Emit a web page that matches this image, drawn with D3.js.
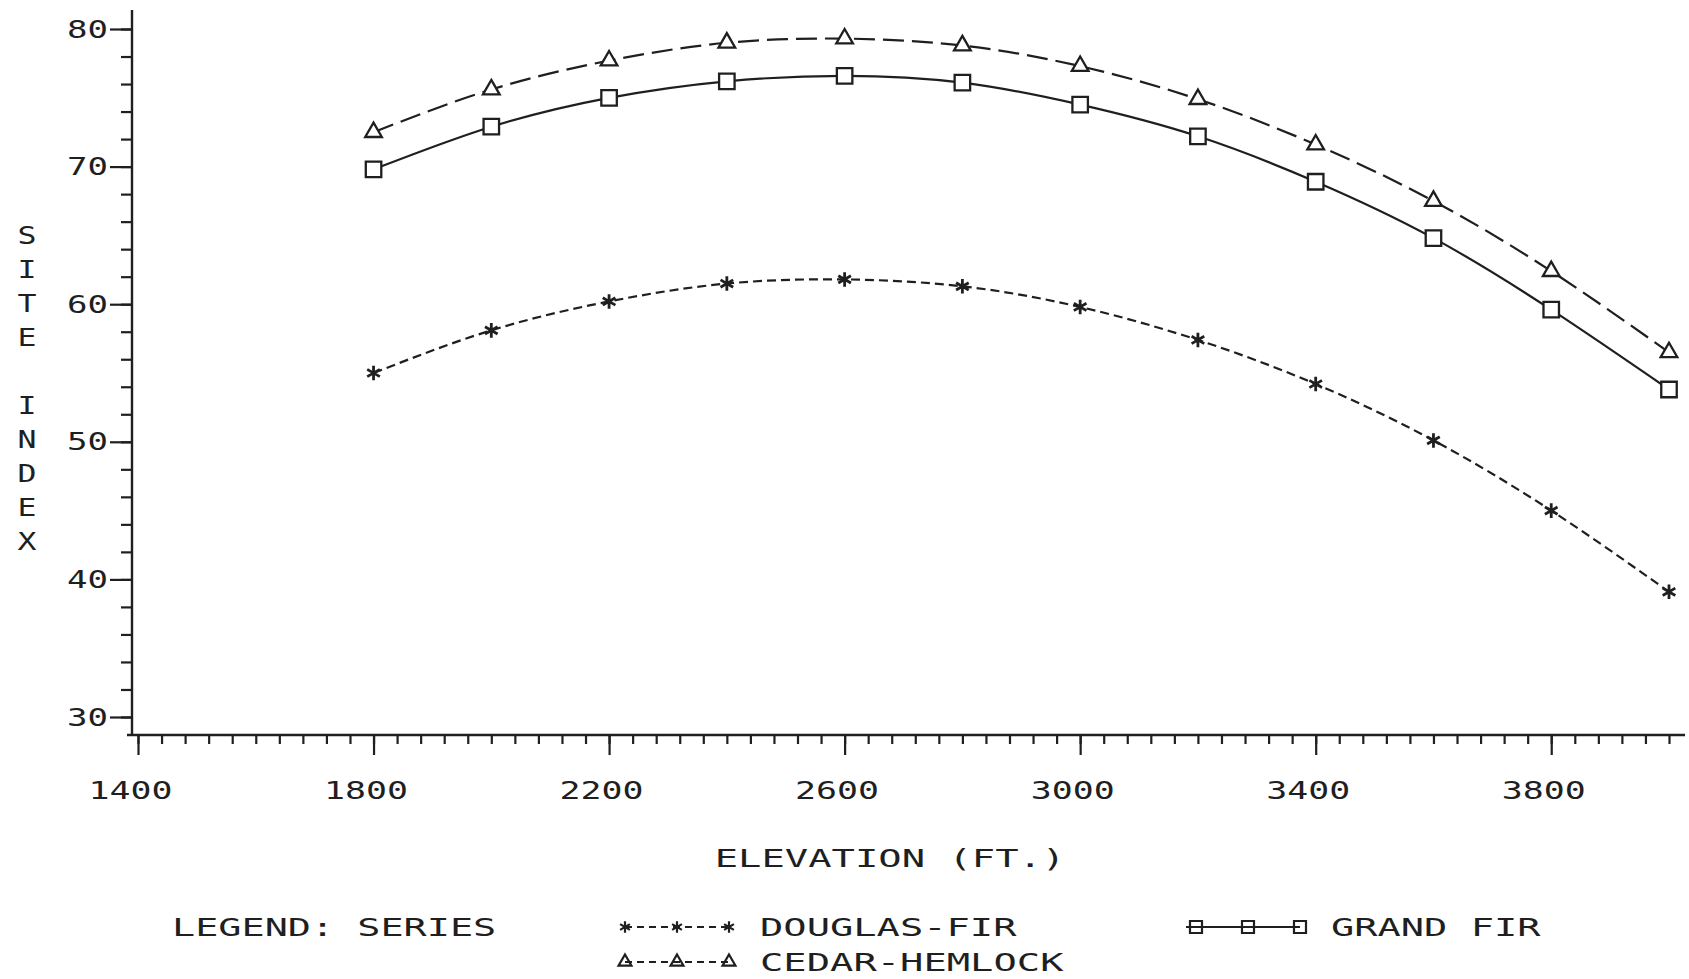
<html>

<head>
  <title>Site index by elevation</title>
  <script src="https://d3js.org/d3.v7.min.js"></script>
  <style>
    body { margin: 0; background: #fff; }
    text { font-family: 'DejaVu Sans Mono', monospace; fill: #1f1f1f; font-size: 25px; }
  </style>
</head>

<body>
  <div id="chart"></div>

  <script type="text/javascript">

      // Values (site index at each elevation)
      var elevations   = [1800, 2000, 2200, 2400, 2600, 2800, 3000, 3200, 3400, 3600, 3800, 4000];
      var douglasFir   = [55.0, 58.1, 60.2, 61.5, 61.8, 61.3, 59.8, 57.4, 54.2, 50.1, 45.0, 39.1];
      var grandFir     = [69.8, 72.9, 75.0, 76.2, 76.6, 76.1, 74.5, 72.2, 68.9, 64.8, 59.6, 53.8];
      var cedarHemlock = [72.5, 75.6, 77.7, 79.0, 79.3, 78.8, 77.3, 74.9, 71.6, 67.5, 62.4, 56.5];

      var seriesNames = ['DOUGLAS-FIR', 'GRAND FIR', 'CEDAR-HEMLOCK'];
      var xTickLabels = [1400, 1800, 2200, 2600, 3000, 3400, 3800];
      var yTickLabels = [30, 40, 50, 60, 70, 80];
      var yTitle = ['S', 'I', 'T', 'E', '', 'I', 'N', 'D', 'E', 'X'];

      var ink = '#1f1f1f';
      var width = 1689;
      var height = 979;

      // plotter lettering is wide, so stretch the glyphs to a fixed advance
      function stretch(sel, adv) {
        sel.each(function() {
          var t = d3.select(this);
          var n = t.text().length;
          if (n > 0) t.attr('textLength', n * adv - 2).attr('lengthAdjust', 'spacingAndGlyphs');
        });
      }

      // Setting the ranges
      var x = d3.scaleLinear().domain([1400, 4000]).range([138, 1669]);
      var y = d3.scaleLinear().domain([30, 80]).range([717, 29]);

      var xAxisY = y(30) + 18;
      var yAxisX = 132;

      var svg = d3.select('#chart')
                  .append('svg')
                    .attr('width', width)
                    .attr('height', height)
                    .style('color', ink);

      // x axis: minor ticks every 40 ft, long ticks with labels every 400 ft
      svg.append('g')
           .attr('transform', 'translate(0,' + xAxisY + ')')
           .call(d3.axisBottom(x).tickValues(d3.range(1400, 4001, 40)).tickSize(9).tickFormat(''));

      svg.append('g')
           .attr('class', 'x-axis')
           .attr('transform', 'translate(0,' + xAxisY + ')')
           .call(d3.axisBottom(x).tickValues(xTickLabels).tickSize(20).tickPadding(26).tickFormat(d3.format('d')));

      // y axis: minor ticks every 2, long ticks with labels every 10
      svg.append('g')
           .attr('transform', 'translate(' + yAxisX + ',0)')
           .call(d3.axisLeft(y).tickValues(d3.range(30, 81, 2)).tickSize(11).tickFormat(''));

      svg.append('g')
           .attr('class', 'y-axis')
           .attr('transform', 'translate(' + yAxisX + ',0)')
           .call(d3.axisLeft(y).tickValues(yTickLabels).tickSize(22).tickPadding(2));

      svg.selectAll('.domain').remove();
      svg.selectAll('.tick line').style('stroke-width', 2.2);
      svg.selectAll('.tick text')
           .style('font-size', '25px')
           .call(stretch, 21.5);
      svg.selectAll('.x-axis .tick text').attr('dx', -8);

      // axis lines
      svg.append('line')
           .attr('x1', yAxisX).attr('x2', yAxisX)
           .attr('y1', y(80) - 19).attr('y2', xAxisY)
           .style('stroke', ink).style('stroke-width', 2.4);

      svg.append('line')
           .attr('x1', yAxisX - 5).attr('x2', x(4000) + 16)
           .attr('y1', xAxisY).attr('y2', xAxisY)
           .style('stroke', ink).style('stroke-width', 2.4);

      // axis titles
      svg.append('text')
           .text('ELEVATION (FT.)')
           .attr('x', 890)
           .attr('y', 867)
           .attr('text-anchor', 'middle')
           .call(stretch, 23.5);

      svg.append('g')
           .selectAll('text')
           .data(yTitle)
           .enter()
           .append('text')
             .text(function(d) { return d; })
             .attr('x', 27)
             .attr('y', function(d, i) { return 244 + i * 34; })
             .attr('text-anchor', 'middle')
             .call(stretch, 21);

      // Series
      var series = [
        {name: seriesNames[0], values: douglasFir,   dash: '9,5',  symbol: d3.symbolAsterisk, size: 150, fill: 'none'},
        {name: seriesNames[1], values: grandFir,     dash: null,   symbol: d3.symbolSquare,   size: 240, fill: '#fff'},
        {name: seriesNames[2], values: cedarHemlock, dash: '21,8', symbol: d3.symbolTriangle, size: 120, fill: '#fff'}
      ];

      var line_function = d3.line()
                           .x(function(d) { return x(d.e); })
                           .y(function(d) { return y(d.v); })
                           .curve(d3.curveNatural);

      series.forEach(function(s) {
        var pts = elevations.map(function(e, i) { return {e: e, v: s.values[i]}; });

        svg.append('path')
             .attr('d', line_function(pts))
             .style('fill', 'none')
             .style('stroke', ink)
             .style('stroke-width', 2.2)
             .style('stroke-dasharray', s.dash);

        svg.append('g')
             .selectAll('path')
             .data(pts)
             .enter()
             .append('path')
               .attr('d', d3.symbol().type(s.symbol).size(s.size))
               .attr('transform', function(d) { return 'translate(' + x(d.e) + ',' + y(d.v) + ')'; })
               .style('fill', s.fill)
               .style('stroke', ink)
               .style('stroke-width', s.symbol === d3.symbolAsterisk ? 2.8 : 2.3);
      });

      // Legend
      var legend = svg.append('g').attr('class', 'legend');

      legend.append('text')
              .text('LEGEND: SERIES')
              .attr('x', 172)
              .attr('y', 936)
              .call(stretch, 23.3);

      var legendPos = [
        {x: 625, y: 927},
        {x: 1196, y: 927},
        {x: 625, y: 962}
      ];

      series.forEach(function(s, i) {
        var p = legendPos[i];
        var marks = [p.x, p.x + 52, p.x + 104];

        legend.append('line')
                .attr('x1', p.x - (i === 1 ? 10 : 0)).attr('x2', p.x + 104)
                .attr('y1', p.y).attr('y2', p.y)
                .style('stroke', ink)
                .style('stroke-width', 2)
                .style('stroke-dasharray', i === 1 ? null : '7,5');

        legend.selectAll('.m' + i)
                .data(marks)
                .enter()
                .append('path')
                  .attr('d', d3.symbol().type(s.symbol).size(s.size * 0.6))
                  .attr('transform', function(d) { return 'translate(' + d + ',' + p.y + ')'; })
                  .style('fill', 'none')
                  .style('stroke', ink)
                  .style('stroke-width', 2.2);

        legend.append('text')
                .text(s.name)
                .attr('x', p.x + 135)
                .attr('y', p.y + 9)
                .call(stretch, 23.5);
      });

  </script>
</body>

</html>
